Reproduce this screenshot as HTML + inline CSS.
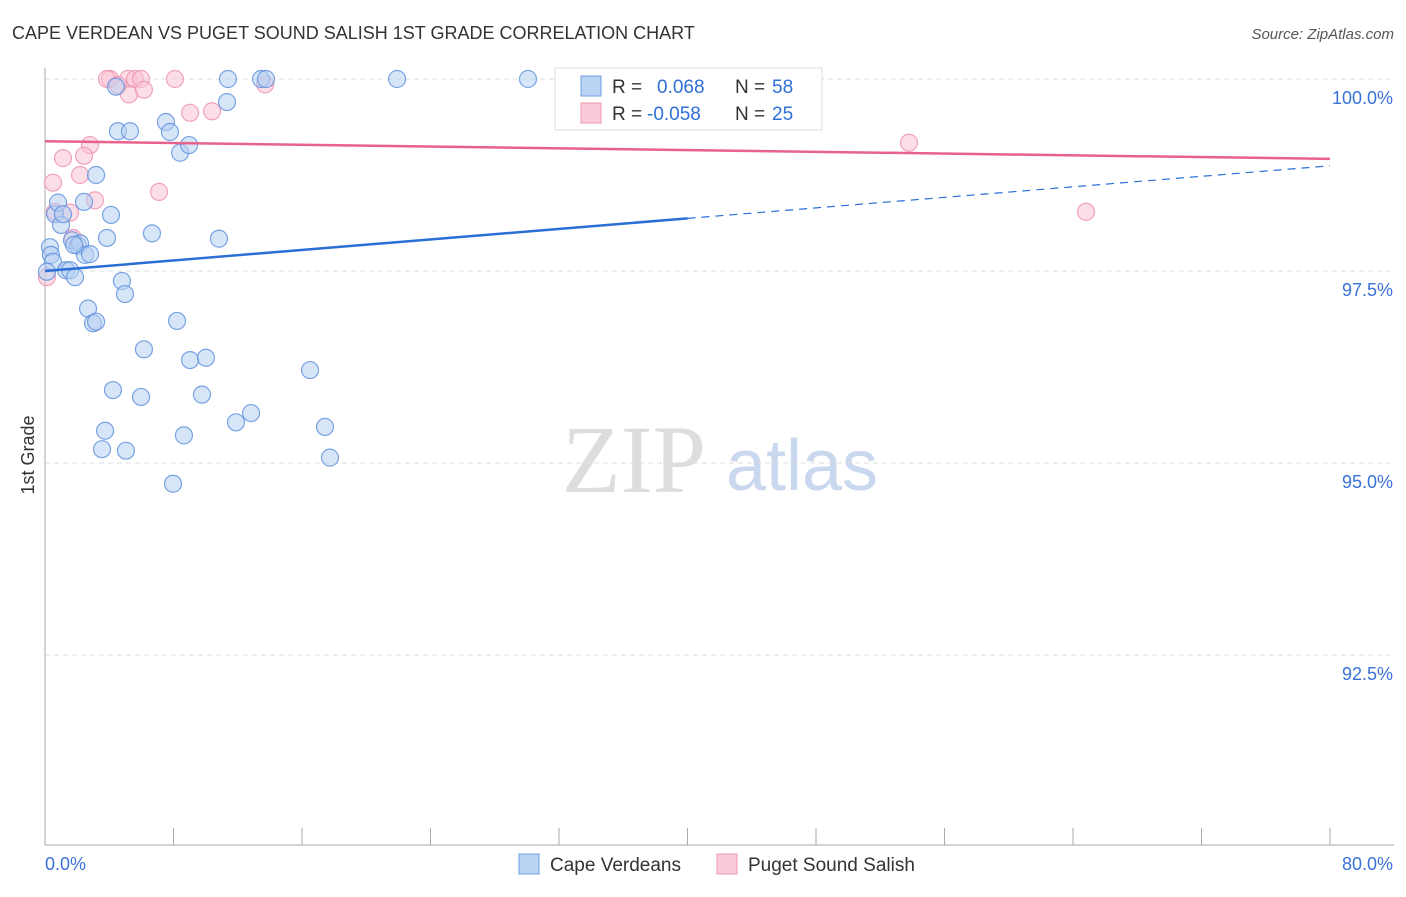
<!DOCTYPE html>
<html><head><meta charset="utf-8"><style>
body{margin:0;background:#fff;font-family:"Liberation Sans",sans-serif}
svg text{font-family:"Liberation Sans",sans-serif}
</style></head><body>
<svg id="c" width="1406" height="892" viewBox="0 0 1406 892">
<text x="12" y="39" font-size="18" fill="#333">CAPE VERDEAN VS PUGET SOUND SALISH 1ST GRADE CORRELATION CHART</text>
<text x="1394" y="39" font-size="15" fill="#555" text-anchor="end" font-style="italic">Source: ZipAtlas.com</text>
<g>
<text x="634" y="492" font-size="96" fill="#ddd" text-anchor="middle" style="font-family:'Liberation Serif',serif">ZIP</text>
<text x="802" y="490" font-size="72" fill="#c9d8ef" text-anchor="middle">atlas</text>
</g>
<g id="grid"></g>
<g id="axes"></g>
<g id="marks"></g>
<text transform="translate(34,455) rotate(-90)" font-size="18" fill="#333" text-anchor="middle">1st Grade</text>
<g>
<rect x="555" y="68" width="267" height="62" fill="#fff" stroke="#ddd"/>
<rect x="581" y="76" width="20" height="20" fill="#b9d3f5" stroke="#6f9fe0"/>
<rect x="581" y="103" width="20" height="20" fill="#f9cad8" stroke="#ec98b3"/>
<text x="612" y="93" font-size="19" fill="#333">R = </text><text x="657" y="93" font-size="19" fill="#2f6fd6">0.068</text>
<text x="735" y="93" font-size="19" fill="#333">N = </text><text x="772" y="93" font-size="19" fill="#2f6fd6">58</text>
<text x="612" y="120" font-size="19" fill="#333">R = </text><text x="647" y="120" font-size="19" fill="#2f6fd6">-0.058</text>
<text x="735" y="120" font-size="19" fill="#333">N = </text><text x="772" y="120" font-size="19" fill="#2f6fd6">25</text>
</g>
<g>
<rect x="519" y="854" width="20" height="20" fill="#b9d3f5" stroke="#6f9fe0"/>
<text x="550" y="871" font-size="19" fill="#333">Cape Verdeans</text>
<rect x="717" y="854" width="20" height="20" fill="#f9cad8" stroke="#ec98b3"/>
<text x="748" y="871" font-size="19" fill="#333">Puget Sound Salish</text>
</g>
</svg>
<script>
const blueX=[0.31,0.37,0.50,0.12,0.62,0.81,1.00,1.12,1.31,1.56,1.68,1.87,2.05,2.18,2.43,2.49,2.80,2.68,3.18,2.99,3.18,4.11,3.86,4.54,4.42,5.29,4.79,4.98,6.16,4.23,5.98,3.74,3.55,5.04,6.66,7.53,7.78,8.41,8.97,8.22,9.03,10.02,9.77,8.65,7.97,10.83,11.33,11.39,11.89,12.83,13.45,13.76,16.50,17.43,17.74,21.92,30.07,1.81];
const blueY=[97.81,97.71,97.62,97.49,98.24,98.39,98.10,98.24,97.51,97.51,97.90,97.42,97.83,97.86,98.40,97.71,97.72,97.01,98.75,96.82,96.84,98.23,97.93,99.32,99.90,99.32,97.37,97.20,96.48,95.95,95.86,95.42,95.18,95.16,97.99,99.44,99.31,99.04,99.14,96.85,96.34,96.37,95.89,95.36,94.73,97.92,99.70,100,95.53,95.65,100,100,96.21,95.47,95.07,100,100,97.84];
const pinkX=[4.05,3.86,5.17,5.60,5.98,4.54,5.23,6.16,8.09,9.03,10.40,13.70,2.80,2.43,1.12,2.18,0.50,0.62,3.11,1.56,7.10,1.74,0.12,53.79,64.81];
const pinkY=[100,100,100,100,100,99.92,99.80,99.86,100,99.56,99.58,99.93,99.14,99.00,98.97,98.75,98.65,98.27,98.42,98.26,98.53,97.93,97.42,99.17,98.27];
const blueTrend=[97.50,98.87];
const pinkTrend=[99.19,98.96];
const yTicks=[100,97.5,95,92.5];
const yTickLabels=["100.0%","97.5%","95.0%","92.5%"];
const xTickVals=[0,8,16,24,32,40,48,56,64,72,80];
const X=v=>45+v/80*1285, Y=v=>79+(100-v)*76.8;
const NS="http://www.w3.org/2000/svg";
function mk(p,t,a){const e=document.createElementNS(NS,t);for(const k in a)e.setAttribute(k,a[k]);p.appendChild(e);return e;}
const grid=document.getElementById('grid'),axes=document.getElementById('axes'),marks=document.getElementById('marks');
yTicks.forEach((v,i)=>{
 const l=mk(grid,'line',{x1:45,x2:1394,y1:Y(v),y2:Y(v),stroke:'#ddd','stroke-dasharray':'5,4'});
 
 
 const t=mk(axes,'text',{x:1393,y:Y(v)+25,'font-size':18,fill:'#3a72d8','text-anchor':'end'});t.textContent=yTickLabels[i];
 
 
});
mk(axes,'line',{x1:45,x2:45,y1:68,y2:845,stroke:'#aaa'});
mk(axes,'line',{x1:45,x2:1394,y1:845,y2:845,stroke:'#aaa'});
xTickVals.forEach(v=>{const l=mk(axes,'line',{x1:X(v),x2:X(v),y1:828,y2:845,stroke:'#aaa'});
 
 });
let t0=mk(axes,'text',{x:45,y:870,'font-size':18,fill:'#3a72d8'});t0.textContent="0.0%";


let t1=mk(axes,'text',{x:1393,y:870,'font-size':18,fill:'#3a72d8','text-anchor':'end'});t1.textContent="80.0%";


function pts(xs,ys,fill,stroke,name){xs.forEach((x,i)=>{const c=mk(marks,'circle',{cx:X(x),cy:Y(ys[i]),r:8.5,fill:fill,'fill-opacity':0.55,stroke:stroke,'stroke-width':1.2,'stroke-opacity':0.8});
 
 });}
pts(pinkX,pinkY,'#f9c2d3','#ec8fae','puget-point');
pts(blueX,blueY,'#b6d0f3','#5b8fdc','cape-verdean-point');
const bm=blueTrend[0]+(blueTrend[1]-blueTrend[0])*0.5;
let b1=mk(marks,'line',{x1:X(0),y1:Y(blueTrend[0]),x2:X(40),y2:Y(bm),stroke:'#2a6fd6','stroke-width':2.5});


let b2=mk(marks,'line',{x1:X(40),y1:Y(bm),x2:X(80),y2:Y(blueTrend[1]),stroke:'#2a6fd6','stroke-width':1.2,'stroke-dasharray':'8,6'});


let p1=mk(marks,'line',{x1:X(0),y1:Y(pinkTrend[0]),x2:X(80),y2:Y(pinkTrend[1]),stroke:'#e8628e','stroke-width':2.5});


</script>
</body></html>
